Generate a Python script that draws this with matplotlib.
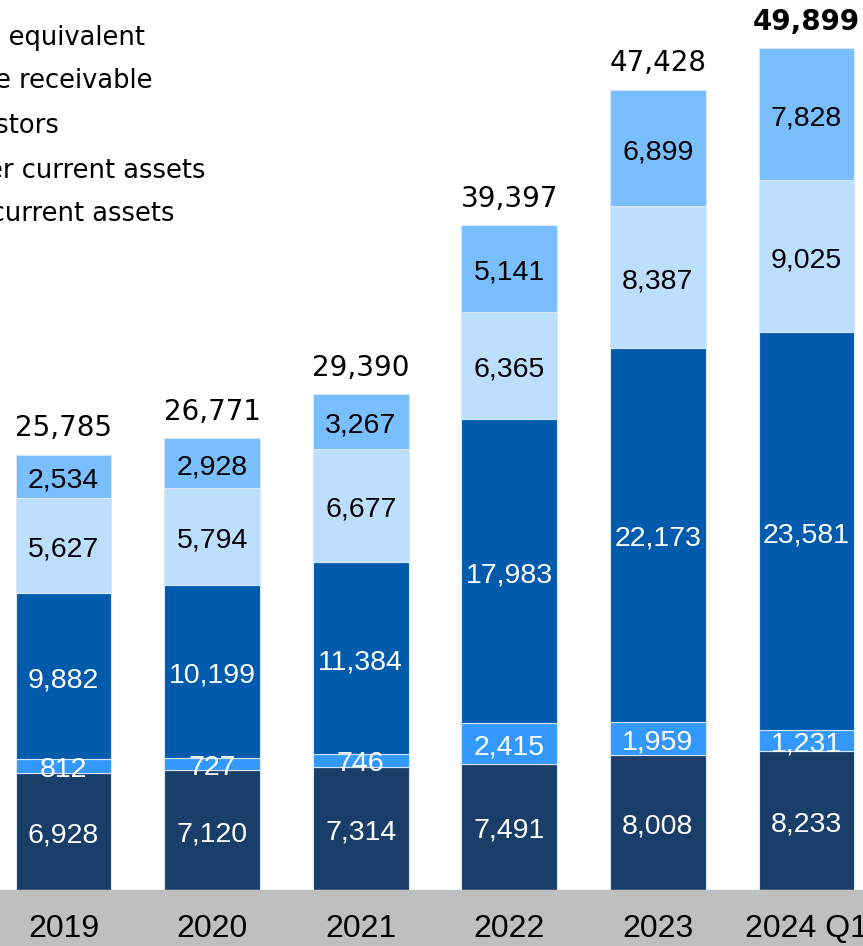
import matplotlib.pyplot as plt
from matplotlib.patches import Rectangle

years = ["2019", "2020", "2021", "2022", "2023", "2024 Q1"]
totals = [25785, 26771, 29390, 39397, 47428, 49899]

# stacked from bottom to top
seg_navy = [6928, 7120, 7314, 7491, 8008, 8233]
seg_bright = [812, 727, 746, 2415, 1959, 1231]
seg_mid = [9882, 10199, 11384, 17983, 22173, 23581]
seg_light = [5627, 5794, 6677, 6365, 8387, 9025]
seg_sky = [2534, 2928, 3267, 5141, 6899, 7828]

legend_labels = ["Cash and cash equivalent", "Trade receivable", "Due from investors",
                 "Other current assets", "Non-current assets"]

series = [
    (seg_navy, "#1A3E6A", "white"),
    (seg_bright, "#3399FF", "white"),
    (seg_mid, "#005BAC", "white"),
    (seg_light, "#BDDFFF", "black"),
    (seg_sky, "#79BEFF", "black"),
]

W, H = 863, 946
fig = plt.figure(figsize=(W / 100, H / 100), dpi=100)

# grey band under the bars
fig.patches.append(Rectangle((0, 0), 1, 56 / H, transform=fig.transFigure,
                             color="#BFBFBF", zorder=0))

base_px = 890
ax = fig.add_axes([0, (H - base_px) / H, 1, base_px / H])
ax.set_axis_off()
px_per_unit = (890 - 48) / 49899
ax.set_ylim(0, base_px / px_per_unit)
step = 148.6
x0 = 63.5
ax.set_xlim(-x0 / step, (W - x0) / step)

x = list(range(len(years)))
bottom = [0] * len(years)
for vals, color, tcolor in series:
    ax.bar(x, vals, width=0.645, bottom=bottom, color=color,
           edgecolor="#D8E6F5", linewidth=0.8)
    for i, v in enumerate(vals):
        ax.annotate(f"{v:,}", (i, bottom[i] + v / 2), xytext=(0, -3),
                    textcoords="offset points", ha="center", va="center",
                    color=tcolor, fontsize=20.5, family="Liberation Sans")
    bottom = [b + v for b, v in zip(bottom, vals)]

for i, t in enumerate(totals):
    ax.annotate(f"{t:,}", (i, bottom[i]), xytext=(0, 9),
                textcoords="offset points", ha="center", va="bottom",
                fontsize=20, family="DejaVu Sans", color="black",
                fontweight="bold" if i == len(totals) - 1 else "normal")

for i, y in enumerate(years):
    fig.text((x0 + step * i) / W, 1 - 929 / H, y, ha="center", va="center",
             fontsize=23, family="Liberation Sans")

# legend, cut off at the left edge of the picture
legend_right = [145, 153, 59, 205, 174]
legend_y = [38, 81, 126, 171, 214]
for lab, xr, yy in zip(legend_labels, legend_right, legend_y):
    fig.text(xr / W, 1 - yy / H, lab, ha="right", va="center",
             fontsize=18.5, family="DejaVu Sans")

fig.savefig("out.png", dpi=100)
